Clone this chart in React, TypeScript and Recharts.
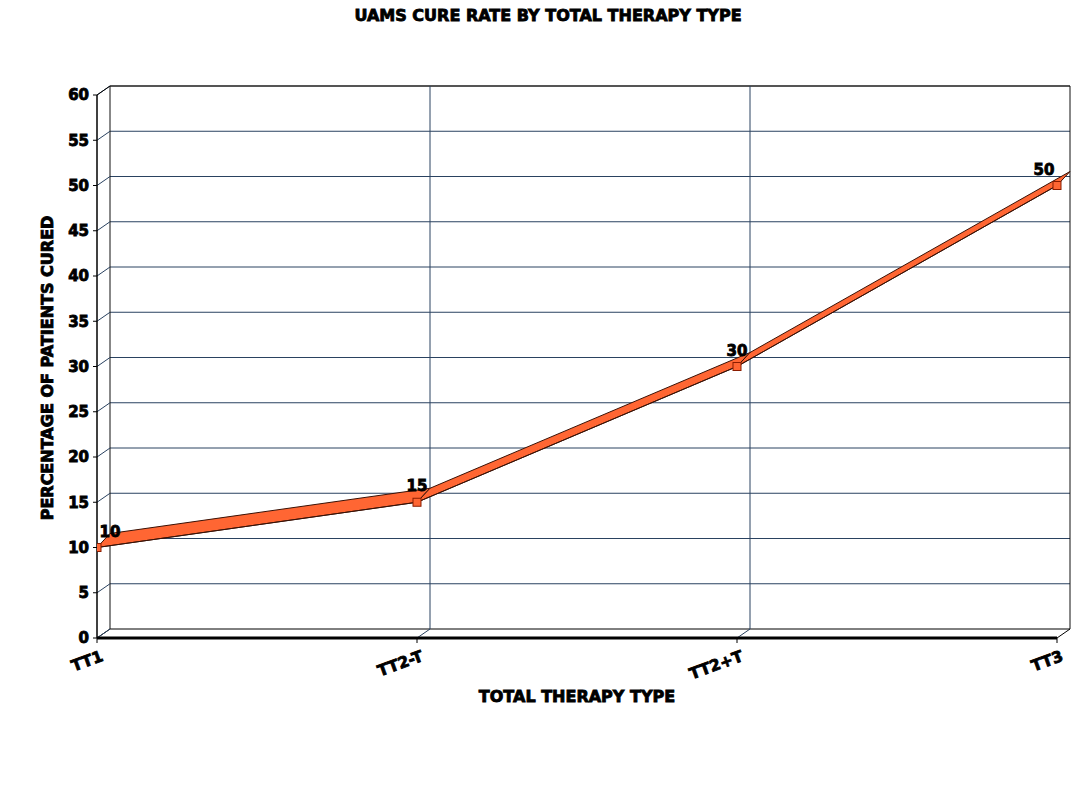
import React from 'react';
import { ComposedChart, Line, XAxis, YAxis, ReferenceLine } from 'recharts';

const categories = ['TT1', 'TT2-T', 'TT2+T', 'TT3'];
const cureRates = [10, 15, 30, 50];
const yTicks = [0, 5, 10, 15, 20, 25, 30, 35, 40, 45, 50, 55, 60];
const xTicks = [0, 1, 2, 3];

const data = categories.map((name, i) => ({ idx: i, name, value: cureRates[i] }));

// chart geometry
const W = 1080;
const H = 792;
const M = { top: 78, right: 18, left: 39, bottom: 112 };
const YAXIS_W = 50;
const XAXIS_H = 50;
const PLOT_W = W - M.left - M.right - YAXIS_W; // 973
const PLOT_H = H - M.top - M.bottom - XAXIS_H; // 552
const DX = 13; // 3D depth offset of the walls
const DY = 9;
const RDX = 13; // depth of the ribbon
const RDY = 14;
const LAST = categories.length - 1;
const YMAX = 60;

const frontX: [number, number] = [0, (LAST * PLOT_W) / (PLOT_W - DX)];
const backX: [number, number] = [(-LAST * DX) / (PLOT_W - DX), LAST];
const frontY: [number, number] = [0, (YMAX * PLOT_H) / (PLOT_H - DY)];
const backY: [number, number] = [(-YMAX * DY) / (PLOT_H - DY), YMAX];

const FONT = '"DejaVu Sans", sans-serif';
const GRID = '#2a4260';
const RIBBON = '#ff6633';
const EDGE = '#3a1206';
const TXT_STROKE = 0.85;

const ribbonShape = (p: any) => {
  const { x1, y1, x2, y2 } = p;
  const pts = `${x1},${y1} ${x2},${y2} ${x2 + RDX},${y2 - RDY} ${x1 + RDX},${y1 - RDY}`;
  return <polygon points={pts} fill={RIBBON} stroke={EDGE} strokeWidth={1} strokeLinejoin="round" />;
};

const depthShape = (color: string) => (p: any) => {
  const { x1, y1 } = p;
  return <line x1={x1} y1={y1} x2={x1 + DX} y2={y1 - DY} stroke={color} strokeWidth={1} />;
};

const YTick = (p: any) => {
  const { x, y, payload } = p;
  return (
    <text x={x} y={y} dy="0.36em" textAnchor="end" fontFamily={FONT} fontWeight="bold" fontSize={15} fill="#000" stroke="#000" strokeWidth={TXT_STROKE}>
      {payload.value}
    </text>
  );
};

const XTick = (p: any) => {
  const { x, y, payload } = p;
  return (
    <text
      x={x + 3}
      y={y + 2}
      dy="0.78em"
      textAnchor="end"
      transform={`rotate(-20, ${x + 3}, ${y + 2})`}
      fontFamily={FONT}
      fontWeight="bold"
      fontSize={15.5}
      fill="#000"
      stroke="#000"
      strokeWidth={TXT_STROKE}
    >
      {categories[payload.value]}
    </text>
  );
};

const SquareDot = (p: any) => {
  const { cx, cy, index } = p;
  return <rect key={`d${index}`} x={cx - 4} y={cy - 4} width={8} height={8} fill={RIBBON} stroke="#8a1c00" strokeWidth={1} />;
};

const ValueLabel = (p: any) => {
  const { x, y, value, index } = p;
  const shift = index === 0 ? DX : index === LAST ? -DX : 0;
  return (
    <text x={x + shift} y={y - 11} textAnchor="middle" fontFamily={FONT} fontWeight="bold" fontSize={15} fill="#000" stroke="#000" strokeWidth={TXT_STROKE}>
      {value}
    </text>
  );
};

const htmlText: React.CSSProperties = {
  position: 'absolute',
  fontFamily: FONT,
  fontWeight: 'bold',
  color: '#000',
  WebkitTextStroke: `${TXT_STROKE}px #000`,
  textAlign: 'center',
};

export default function App() {
  return (
    <div style={{ position: 'relative', width: W, height: H }}>
      <div style={{ ...htmlText, left: 0, width: W, top: -2, fontSize: 16 }}>
        UAMS CURE RATE BY TOTAL THERAPY TYPE
      </div>
      <div
        style={{
          ...htmlText,
          left: 40 - 200,
          top: 360 - 10,
          width: 400,
          height: 20,
          lineHeight: '20px',
          transform: 'rotate(-90deg)',
          fontSize: 16,
        }}
      >
        PERCENTAGE OF PATIENTS CURED
      </div>
      <div style={{ ...htmlText, left: 569 - 200, top: 679, width: 400, fontSize: 16 }}>
        TOTAL THERAPY TYPE
      </div>
      <div style={{ position: 'absolute', left: 0, top: 0 }}>
        <ComposedChart width={W} height={H} data={data} margin={M}>
          <XAxis
            xAxisId="f"
            type="number"
            dataKey="idx"
            domain={frontX}
            ticks={xTicks}
            allowDataOverflow
            height={XAXIS_H}
            axisLine={false}
            tickLine={{ stroke: '#000' }}
            tickSize={5}
            tickMargin={4}
            tick={<XTick />}
            interval={0}
          />
          <XAxis xAxisId="b" type="number" dataKey="idx" domain={backX} allowDataOverflow hide orientation="top" height={0} />
          <YAxis
            yAxisId="f"
            type="number"
            domain={frontY}
            ticks={yTicks}
            allowDataOverflow
            width={YAXIS_W}
            axisLine={false}
            tickLine={{ stroke: '#000' }}
            tickSize={4}
            tickMargin={4}
            tick={<YTick />}
            interval={0}
          />
          <YAxis yAxisId="b" type="number" domain={backY} allowDataOverflow hide orientation="right" width={0} />

          {/* back wall horizontal gridlines */}
          {yTicks.map((v) => (
            <ReferenceLine
              key={`bh${v}`}
              xAxisId="b"
              yAxisId="b"
              ifOverflow="visible"
              segment={[{ x: 0, y: v }, { x: LAST, y: v }]}
              stroke={v === 0 ? '#000' : v === YMAX ? '#555' : GRID}
              strokeWidth={v === YMAX ? 2 : 1}
            />
          ))}
          {/* back wall vertical lines */}
          {xTicks.map((i) => (
            <ReferenceLine
              key={`bv${i}`}
              xAxisId="b"
              yAxisId="b"
              ifOverflow="visible"
              segment={[{ x: i, y: 0 }, { x: i, y: YMAX }]}
              stroke={i === 0 || i === LAST ? '#111' : GRID}
              strokeWidth={1}
            />
          ))}
          {/* depth connectors on the left wall */}
          {yTicks.map((v) => (
            <ReferenceLine
              key={`dl${v}`}
              xAxisId="f"
              yAxisId="f"
              ifOverflow="visible"
              segment={[{ x: 0, y: v }, { x: 0, y: v }]}
              shape={depthShape(v === 0 ? '#000' : GRID)}
            />
          ))}
          {/* depth connectors on the floor */}
          {xTicks.map((i) => (
            <ReferenceLine
              key={`df${i}`}
              xAxisId="f"
              yAxisId="f"
              ifOverflow="visible"
              segment={[{ x: i, y: 0 }, { x: i, y: 0 }]}
              shape={depthShape(i === LAST ? '#000' : GRID)}
            />
          ))}
          {/* front axes */}
          <ReferenceLine
            xAxisId="f"
            yAxisId="f"
            ifOverflow="visible"
            segment={[{ x: 0, y: 0 }, { x: 0, y: YMAX }]}
            stroke="#000"
            strokeWidth={1.5}
          />
          <ReferenceLine
            xAxisId="f"
            yAxisId="f"
            ifOverflow="visible"
            segment={[{ x: 0, y: 0 }, { x: LAST, y: 0 }]}
            stroke="#000"
            strokeWidth={3}
          />
          <ReferenceLine
            xAxisId="f"
            yAxisId="f"
            ifOverflow="visible"
            segment={[{ x: 0, y: YMAX }, { x: 0, y: YMAX }]}
            shape={depthShape('#000')}
          />

          {/* ribbon */}
          {cureRates.slice(0, LAST).map((v, i) => (
            <ReferenceLine
              key={`rb${i}`}
              xAxisId="f"
              yAxisId="f"
              ifOverflow="visible"
              segment={[{ x: i, y: v }, { x: i + 1, y: cureRates[i + 1] }]}
              shape={ribbonShape}
            />
          ))}

          <Line
            xAxisId="f"
            yAxisId="f"
            type="linear"
            dataKey="value"
            stroke={EDGE}
            strokeWidth={1}
            dot={<SquareDot />}
            activeDot={false}
            label={<ValueLabel />}
            isAnimationActive={false}
          />
        </ComposedChart>
      </div>
    </div>
  );
}
